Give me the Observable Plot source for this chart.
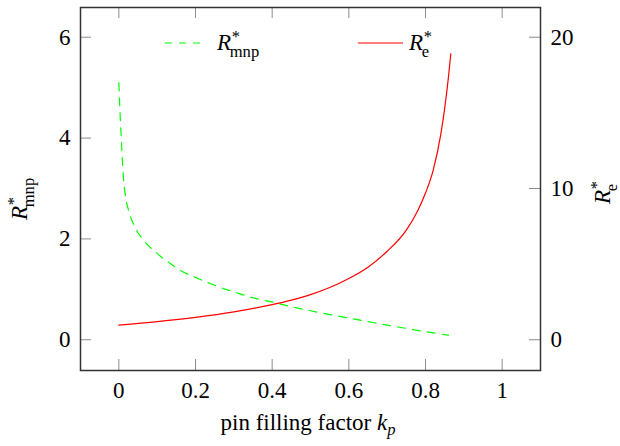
<!DOCTYPE html>
<html><head><meta charset="utf-8">
<script src="https://cdn.jsdelivr.net/npm/d3@7"></script>
<script src="https://cdn.jsdelivr.net/npm/@observablehq/plot@0.6"></script>
<style>
body{margin:0;background:#fff}
#chart svg, #chart svg text{font-family:"Liberation Serif",serif}
</style>
</head><body><div id="chart"></div>
<script>
// R*_mnp (left axis), green dashed
const kpMnp = [0, 0.002, 0.004, 0.006, 0.008, 0.010, 0.013, 0.018, 0.028, 0.043, 0.066, 0.097, 0.131, 0.162, 0.205, 0.240, 0.279, 0.318, 0.362, 0.405, 0.450, 0.500, 0.550, 0.600, 0.650, 0.700, 0.750, 0.800, 0.860];
const rMnp  = [5.10, 4.70, 4.35, 4.05, 3.75, 3.45, 3.12, 2.82, 2.50, 2.22, 1.96, 1.73, 1.53, 1.37, 1.22, 1.11, 1.00, 0.905, 0.81, 0.74, 0.655, 0.575, 0.50, 0.43, 0.36, 0.29, 0.225, 0.16, 0.09];
// R*_e (right axis), red solid
const kpE = [0, 0.10, 0.20, 0.30, 0.40, 0.45, 0.50, 0.55, 0.60, 0.65, 0.70, 0.75, 0.78, 0.80, 0.82, 0.84, 0.85, 0.86, 0.866];
const rE  = [0.97, 1.20, 1.48, 1.84, 2.32, 2.62, 2.98, 3.45, 4.05, 4.80, 5.85, 7.25, 8.55, 9.70, 11.2, 13.6, 15.3, 17.4, 18.9];

const xTicks = [0, 0.2, 0.4, 0.6, 0.8, 1];
const yLeftTicks = [0, 2, 4, 6];
const yRightTicks = [0, 10, 20];
const xLabel = "pin filling factor ";
const xLabelVar = "k";
const xLabelSub = "p";
const leftLabelSub = "mnp";
const rightLabelSub = "e";

const ratio = 6 / 20; // right axis units -> left axis units

const W = 620, H = 446, mL = 80, mR = 80, mT = 7, mB = 76;
const innerW = W - mL - mR, innerH = H - mT - mB;
const tickLen = 11;
const FS = 23;
const FF = "Liberation Serif";

const mnp = kpMnp.map((k, i) => ({k, v: rMnp[i]}));
const e = kpE.map((k, i) => ({k, v: rE[i] * ratio}));

const plot = Plot.plot({
  width: W, height: H,
  marginLeft: mL, marginRight: mR, marginTop: mT, marginBottom: mB,
  style: {fontFamily: FF, fontSize: FS + "px", background: "white", overflow: "visible", color: "#000"},
  x: {domain: [-0.1, 1.1], label: null},
  y: {domain: [-0.61, 6.59], label: null},
  marks: [
    Plot.tickX(xTicks, {x: d => d, stroke: "#8c8c8c", strokeWidth: 1, insetTop: innerH - tickLen}),
    Plot.tickX(xTicks, {x: d => d, stroke: "#8c8c8c", strokeWidth: 1, insetBottom: innerH - tickLen}),
    Plot.tickY(yLeftTicks, {y: d => d, stroke: "#8c8c8c", strokeWidth: 1, insetRight: innerW - tickLen}),
    Plot.tickY(yRightTicks, {y: d => d * ratio, stroke: "#8c8c8c", strokeWidth: 1, insetLeft: innerW - tickLen}),
    Plot.axisX(xTicks, {tickSize: 0, tickPadding: 11, tickFormat: d => String(d), label: null, fontSize: FS, fontFamily: FF}),
    Plot.axisY(yLeftTicks, {anchor: "left", tickSize: 0, tickPadding: 10, tickFormat: d => String(d), label: null, fontSize: FS, fontFamily: FF}),
    Plot.axisY(yRightTicks.map(d => d * ratio), {anchor: "right", tickSize: 0, tickPadding: 10, tickFormat: d => String(Math.round(d / ratio)), label: null, fontSize: FS, fontFamily: FF}),
    Plot.line(mnp, {x: "k", y: "v", stroke: "#00ff00", strokeWidth: 1.2, strokeDasharray: "8,7", curve: "monotone-x"}),
    Plot.line(e, {x: "k", y: "v", stroke: "#ff0000", strokeWidth: 1.2, curve: "monotone-x"}),
    Plot.frame({stroke: "#333", strokeWidth: 1.5})
  ]
});
document.getElementById("chart").appendChild(plot);

const svg = d3.select(plot);

function sym(parent, sub, size) {
  const g = parent.append("g").attr("font-family", FF).attr("text-anchor", "start");
  const w = 0.62 * size; // italic R advance
  g.append("text").attr("font-style", "italic").attr("font-size", size).attr("fill", "#000").text("R");
  g.append("text").attr("x", w + 0.5).attr("y", -size * 0.36).attr("font-size", size * 0.72).attr("fill", "#000").text("*");
  g.append("text").attr("x", w - 1.5).attr("y", size * 0.3).attr("font-size", size * 0.72).attr("fill", "#000").text(sub);
  return g;
}

// legend
const leg = svg.append("g");
leg.append("line").attr("x1", 165).attr("x2", 207).attr("y1", 43).attr("y2", 43)
  .attr("stroke", "#00ff00").attr("stroke-width", 1.2).attr("stroke-dasharray", "7,7");
sym(leg, leftLabelSub, FS).attr("transform", "translate(217,50)");
leg.append("line").attr("x1", 358).attr("x2", 403).attr("y1", 43).attr("y2", 43)
  .attr("stroke", "#ff0000").attr("stroke-width", 1.2);
sym(leg, rightLabelSub, FS).attr("transform", "translate(409,50)");

// axis labels
sym(svg, leftLabelSub, FS).attr("transform", "translate(27,220) rotate(-90)");
sym(svg, rightLabelSub, FS).attr("transform", "translate(610,204) rotate(-90)");

const xl = svg.append("text").attr("x", 308).attr("y", 430).attr("text-anchor", "middle")
  .attr("font-family", FF).attr("font-size", FS).attr("fill", "#000");
xl.append("tspan").text(xLabel);
xl.append("tspan").attr("font-style", "italic").text(xLabelVar);
xl.append("tspan").attr("font-style", "italic").attr("font-size", FS * 0.72).attr("dy", 5).text(xLabelSub);

// force serif everywhere (axis tick labels included)
svg.selectAll("g, text, tspan").style("font-family", "'Liberation Serif', serif").style("font-variant", "normal");
</script>
</body></html>
